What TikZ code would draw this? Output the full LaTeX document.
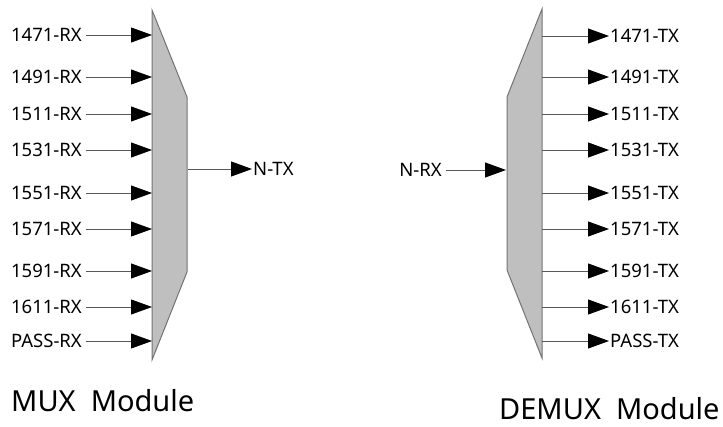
\documentclass[tikz,border=0pt]{standalone}
\usepackage{fontspec}
\setmainfont{Noto Sans}
\usetikzlibrary{arrows.meta}
\begin{document}
\begin{tikzpicture}[x=1pt, y=-1pt,
  port/.style={font=\fontsize{18.5}{18.5}\selectfont, inner sep=1pt},
  sig/.style={draw=black!65, line width=0.9pt, -{Triangle[length=21pt,width=15pt,black]}},
  module/.style={fill=black!25, draw=black!55, line width=1pt},
  title/.style={font=\fontsize{29}{29}\selectfont, anchor=base west, inner sep=0pt}]
\useasboundingbox (0,0) rectangle (723,427);

% MUX block
\draw[module] (152,10) -- (187,97) -- (187,272) -- (152,360) -- cycle;

% MUX inputs
\foreach \y/\w in {35/1471, 77/1491, 114/1511, 150/1531, 193/1551, 229/1571, 271/1591, 307/1611, 341/PASS} {
    \node[port, anchor=east] (mux\w) at (83,\y) {\w-RX};
    \coordinate (muxin\w) at (152,\y);
    \draw[sig] ([xshift=3pt]mux\w.east) -- (muxin\w);
}

% MUX output
\coordinate (muxout) at (188,169);
\node[port, anchor=west] (ntx) at (252,169) {N-TX};
\draw[sig] (muxout) -- (ntx.west);

\node[title] (muxtitle) at (11,412) {MUX~~Module};

% DEMUX block
\draw[module] (542,9) -- (542,358) -- (507,270) -- (507,97) -- cycle;

% DEMUX input
\node[port, anchor=east] (nrx) at (443,170) {N-RX};
\coordinate (demuxin) at (506,170);
\draw[sig] ([xshift=3pt]nrx.east) -- (demuxin);

% DEMUX outputs
\foreach \y/\w in {36/1471, 77/1491, 114/1511, 150/1531, 193/1551, 229/1571, 271/1591, 307/1611, 341/PASS} {
    \coordinate (demuxout\w) at (542,\y);
    \node[port, anchor=west] (dmx\w) at (609,\y) {\w-TX};
    \draw[sig] (demuxout\w) -- (dmx\w.west);
}

\node[title] (demuxtitle) at (499,420) {DEMUX~~Module};

\end{tikzpicture}
\end{document}
